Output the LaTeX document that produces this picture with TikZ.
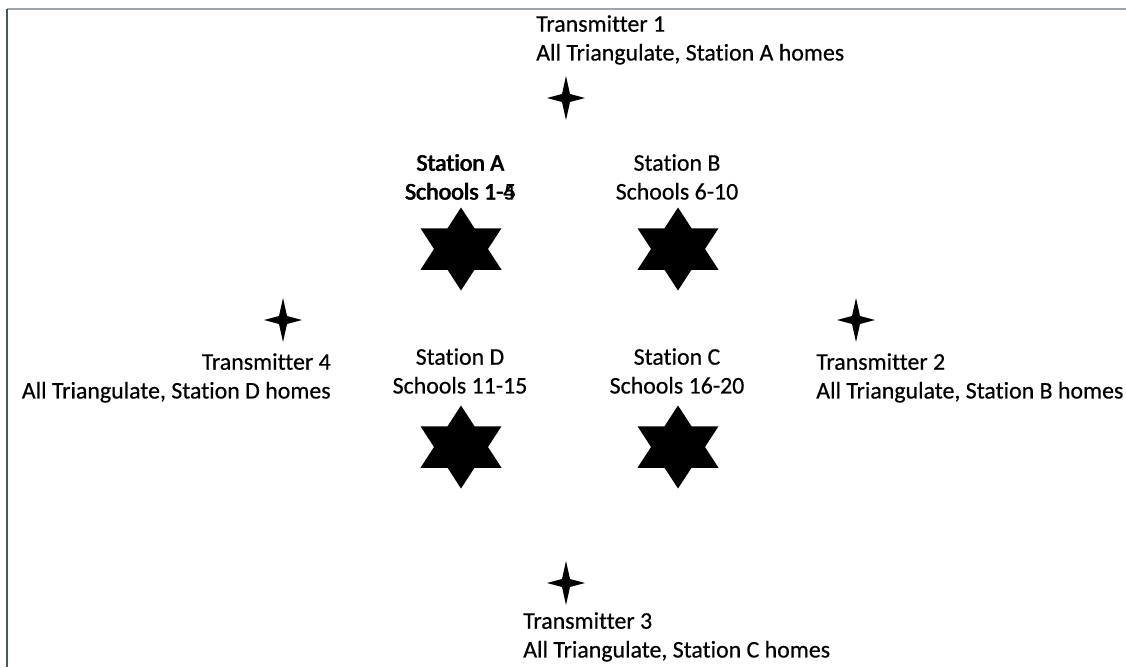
\documentclass[tikz,border=0pt]{standalone}
\usepackage{fontspec}
\setmainfont{Carlito}[Ligatures=NoCommon]
\newfontfamily\lblfont{Carlito}[FakeBold=0.5,Ligatures=NoCommon]
\definecolor{framegray}{RGB}{160,164,168}
\definecolor{framedark}{RGB}{74,88,90}
\begin{document}
\begin{tikzpicture}[x=0.75pt,y=-0.75pt,
  lbl/.style={inner sep=0pt,font=\lblfont\fontsize{17.9}{21.6}\selectfont},
  stlbl/.style={lbl,align=center,anchor=north}]
\useasboundingbox (0,0) rectangle (1126,667);

% frame
\draw[framegray,line width=1.2pt] (7,9) -- (1126,9);
\draw[framedark,line width=1.2pt] (7,9) -- (7,667);

% stations
\foreach \cx/\cy in {461/249,678/249,461/447,678/447}
  \fill[shift={(\cx,\cy)}] (0,-41.5) -- (40.5,20.75) -- (-40.5,20.75) -- cycle
        (0,41.5) -- (-40.5,-20.75) -- (40.5,-20.75) -- cycle;

\node[stlbl] (stationA) at (460,154) {Station A\\Schools 1-4};
\node[stlbl] (stationAb) at (460.7,154) {Station A\\Schools 1-5};
\node[stlbl] (stationB) at (677,154) {Station B\\Schools 6-10};
\node[stlbl] (stationD) at (460,348) {Station D\\Schools 11-15};
\node[stlbl] (stationC) at (677,348) {Station C\\Schools 16-20};

% transmitters
\foreach \cx/\cy in {566/98,856/320,566/583,283/320}
  \fill[shift={(\cx,\cy)}] (0,-22) -- (4,-4) -- (19,0) -- (4,4) -- (0,22)
        -- (-4,4) -- (-19,0) -- (-4,-4) -- cycle;

\node[lbl,align=left,anchor=north west] (tx1) at (536,15) {Transmitter 1\\All Triangulate, Station A homes};
\node[lbl,align=left,anchor=north west] (tx2) at (816,353) {Transmitter 2\\All Triangulate, Station B homes};
\node[lbl,align=left,anchor=north west] (tx3) at (523,612) {Transmitter 3\\All Triangulate, Station C homes};
\node[lbl,align=right,anchor=north east] (tx4) at (331,353) {Transmitter 4\\All Triangulate, Station D homes};

\end{tikzpicture}
\end{document}
